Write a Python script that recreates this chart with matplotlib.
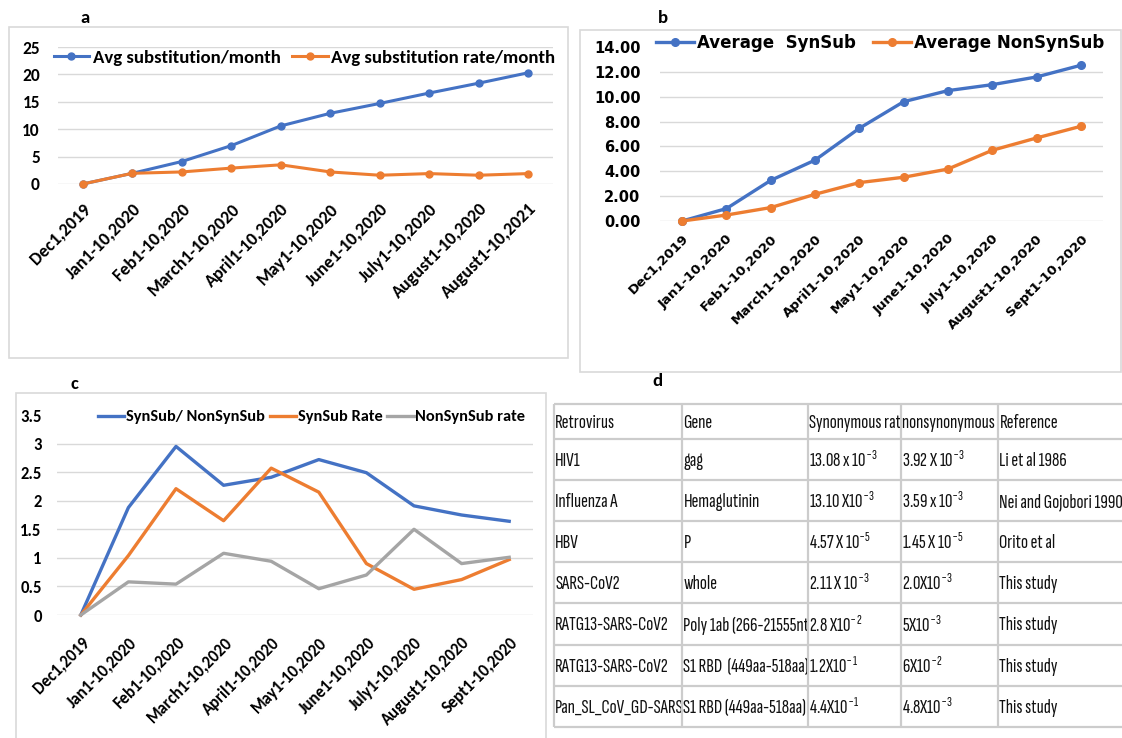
import matplotlib
matplotlib.use('Agg')
import matplotlib.pyplot as plt
from matplotlib.patches import Rectangle
from matplotlib.transforms import Bbox, TransformedBbox
import numpy as np

W, H = 1122, 738

# ---- data ----
months_a = ['Dec1,2019', 'Jan1-10,2020', 'Feb1-10,2020', 'March1-10,2020', 'April1-10,2020',
            'May1-10,2020', 'June1-10,2020', 'July1-10,2020', 'August1-10,2020', 'August1-10,2021']
months_bc = months_a[:-1] + ['Sept1-10,2020']

avg_sub = [0, 1.95, 4.1, 7.0, 10.6, 12.9, 14.7, 16.6, 18.4, 20.3]
avg_sub_rate = [0, 1.95, 2.2, 2.9, 3.5, 2.2, 1.6, 1.9, 1.6, 1.9]

syn_sub = [0, 1.0, 3.27, 4.9, 7.46, 9.6, 10.49, 10.97, 11.59, 12.53]
nonsyn_sub = [0, 0.48, 1.08, 2.15, 3.09, 3.52, 4.18, 5.69, 6.68, 7.62]

ratio = [0, 1.88, 2.95, 2.27, 2.41, 2.72, 2.49, 1.91, 1.75, 1.64]
syn_rate = [0, 1.04, 2.21, 1.65, 2.57, 2.15, 0.90, 0.45, 0.62, 0.97]
nonsyn_rate = [0, 0.58, 0.54, 1.08, 0.94, 0.46, 0.70, 1.50, 0.90, 1.01]

tbl_header = ['Retrovirus', 'Gene', 'Synonymous rate', 'nonsynonymous rate', 'Reference']
tbl_virus = ['HIV1', 'Influenza A', 'HBV', 'SARS-CoV2', 'RATG13-SARS-CoV2',
             'RATG13-SARS-CoV2', 'Pan_SL_CoV_GD-SARS-CoV2']
tbl_gene = ['gag', 'Hemaglutinin', 'P', 'whole', 'Poly 1ab (266-21555nt)',
            'S1 RBD  (449aa-518aa)', 'S1 RBD (449aa-518aa)']
tbl_syn = ['13.08 x 10$^{-3}$', '13.10 X10$^{-3}$', '4.57 X 10$^{-5}$', '2.11 X 10$^{-3}$',
           '2.8 X10$^{-2}$', '1.2X10$^{-1}$', '4.4X10$^{-1}$']
tbl_nonsyn = ['3.92 X 10$^{-3}$', '3.59 x 10$^{-3}$', '1.45 X 10$^{-5}$', '2.0X10$^{-3}$',
              '5X10$^{-3}$', '6X10$^{-2}$', '4.8X10$^{-3}$']
tbl_ref = ['Li et al 1986', 'Nei and Gojobori 1990', 'Orito et al', 'This study',
           'This study', 'This study', 'This study']

BLUE = '#4472C4'
ORANGE = '#ED7D31'
GRAY = '#A5A5A5'
GRID = '#D9D9D9'

CAL = ['Carlito', 'Lato', 'DejaVu Sans']
VER = ['DejaVu Sans']
NARROW = ['Sofia Sans Extra Condensed', 'PT Sans Narrow', 'DejaVu Sans']

plt.rcParams['font.family'] = CAL
plt.rcParams['mathtext.default'] = 'regular'

fig = plt.figure(figsize=(W / 100, H / 100), dpi=100)


def px_rect(x0, y0, x1, y1):
    return [x0 / W, 1 - y1 / H, (x1 - x0) / W, (y1 - y0) / H]


def style(ax, labels, ylim, yticks, ylabels, font, xsize, ysize, ypad, xpad):
    x = np.arange(len(labels))
    ax.set_xlim(-0.5, len(labels) - 0.5)
    ax.set_ylim(*ylim)
    ax.set_yticks(yticks)
    ax.set_yticklabels(ylabels, fontsize=ysize, fontweight='bold', family=font)
    ax.set_xticks(x)
    ax.set_xticklabels(labels, rotation=45, ha='right', rotation_mode='anchor',
                       fontsize=xsize, fontweight='bold', family=font)
    ax.tick_params(axis='both', length=0)
    ax.tick_params(axis='y', pad=ypad)
    ax.tick_params(axis='x', pad=xpad)
    ax.grid(axis='y', color=GRID, lw=1)
    ax.set_axisbelow(True)
    for s in ax.spines.values():
        s.set_visible(False)
    ax.patch.set_visible(False)


# chart-area frames
for x0, y0, x1, y1 in [(9, 27, 568, 358), (580, 30, 1121, 372), (16, 393, 546, 745)]:
    fig.patches.append(Rectangle((x0 / W, 1 - y1 / H), (x1 - x0) / W, (y1 - y0) / H,
                                 transform=fig.transFigure, fill=False,
                                 edgecolor=GRID, lw=1.2))

# ---- a ----
ax_a = fig.add_axes(px_rect(58, 47, 553, 184))
xa = np.arange(len(months_a))
ax_a.plot(xa, avg_sub, color=BLUE, lw=2.2, marker='o', ms=5, clip_on=False, zorder=3,
          label='Avg substitution/month')
ax_a.plot(xa, avg_sub_rate, color=ORANGE, lw=2.2, marker='o', ms=5, clip_on=False, zorder=3,
          label='Avg substitution rate/month')
ya = list(range(0, 26, 5))
style(ax_a, months_a, (0, 25), ya, [str(v) for v in ya], CAL, 13, 12.5, 13, 12)
ax_a.legend(loc='center', bbox_to_anchor=(0.498, 0.92), ncol=2, frameon=False,
            handlelength=1.9, columnspacing=0.6, handletextpad=0.2,
            prop=dict(family=CAL, weight='bold', size=13.5))

# ---- b ----
ax_b = fig.add_axes(px_rect(660, 47, 1103, 221))
xb = np.arange(len(months_bc))
ax_b.plot(xb, syn_sub, color=BLUE, lw=2.4, marker='o', ms=5.5, clip_on=False, zorder=3,
          label='Average  SynSub')
ax_b.plot(xb, nonsyn_sub, color=ORANGE, lw=2.4, marker='o', ms=5.5, clip_on=False, zorder=3,
          label='Average NonSynSub')
yb = np.arange(0, 15, 2)
style(ax_b, months_bc, (0, 14), yb, ['%.2f' % v for v in yb], VER, 9.5, 10.5, 14, 8)
ax_b.get_ygridlines()[-1].set_visible(False)
ax_b.legend(loc='center', bbox_to_anchor=(0.497, 1.025), ncol=2, frameon=False,
            handlelength=2.3, columnspacing=1.0, handletextpad=0.2,
            prop=dict(family=VER, weight='bold', size=12))

# ---- c ----
ax_c = fig.add_axes(px_rect(57, 415, 533, 615))
xc = np.arange(len(months_bc))
ax_c.plot(xc, ratio, color=BLUE, lw=2.4, label='SynSub/ NonSynSub', clip_on=False)
ax_c.plot(xc, syn_rate, color=ORANGE, lw=2.4, label='SynSub Rate', clip_on=False)
ax_c.plot(xc, nonsyn_rate, color=GRAY, lw=2.4, label='NonSynSub rate', clip_on=False)
yc = np.arange(0, 3.6, 0.5)
style(ax_c, months_bc, (0, 3.5), yc, ['%g' % v for v in yc], CAL, 12, 12, 11, 14)
ax_c.get_ygridlines()[-1].set_visible(False)
ax_c.legend(loc='center', bbox_to_anchor=(0.535, 0.99), ncol=3, frameon=False,
            handlelength=1.6, columnspacing=0.3, handletextpad=0.1,
            prop=dict(family=CAL, weight='bold', size=11.8))

# ---- d: table ----
ax_d = fig.add_axes([0, 0, 1, 1])
ax_d.set_xlim(0, W)
ax_d.set_ylim(H, 0)
ax_d.axis('off')

col_edges = [553.6, 682, 808, 901, 998, 1140]
row_edges = [404, 439, 480, 521, 562, 603, 645, 686, 727]
ax_d.hlines(row_edges, col_edges[0], col_edges[-1], color='#CCCCCC', lw=1.6)
ax_d.vlines(col_edges[:-1], row_edges[0], row_edges[-1], color='#CCCCCC', lw=1.6)

rows = [tbl_header] + [list(r) for r in zip(tbl_virus, tbl_gene, tbl_syn, tbl_nonsyn, tbl_ref)]
for i, row in enumerate(rows):
    y0, y1 = row_edges[i], row_edges[i + 1]
    for j, txt in enumerate(row):
        x0, x1 = col_edges[j], col_edges[j + 1]
        t = ax_d.text(x0 + 1.5, (y0 + y1) / 2 + 1.5, txt, ha='left', va='center',
                      fontsize=15, fontweight='medium', family=NARROW, color='#111111')
        t.set_clip_box(TransformedBbox(Bbox([[x0 + 1, y0], [x1 - 1, y1]]), ax_d.transData))
        t.set_clip_on(True)

# panel letters
for letter, px, py in [('a', 85, 18), ('b', 663, 18), ('c', 74, 384), ('d', 657, 381)]:
    ax_d.text(px, py, letter, ha='center', va='center', fontsize=13.5,
              fontweight='bold', family=CAL)

fig.savefig('out.png', dpi=100)
